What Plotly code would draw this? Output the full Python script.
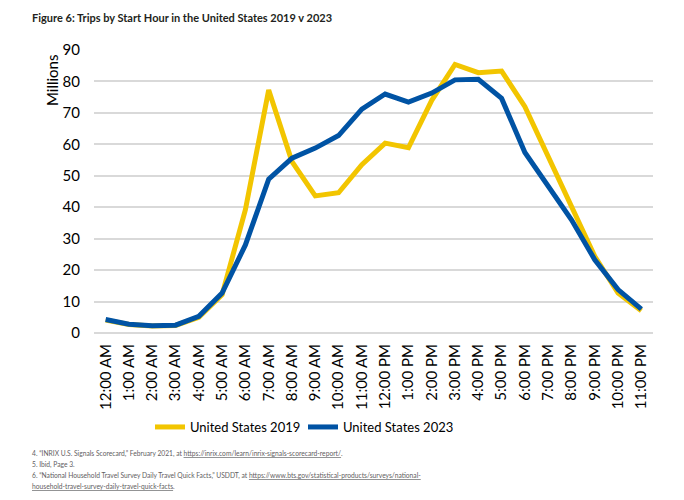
import plotly.graph_objects as go

hours = ["12:00 AM", "1:00 AM", "2:00 AM", "3:00 AM", "4:00 AM", "5:00 AM", "6:00 AM",
         "7:00 AM", "8:00 AM", "9:00 AM", "10:00 AM", "11:00 AM", "12:00 PM", "1:00 PM",
         "2:00 PM", "3:00 PM", "4:00 PM", "5:00 PM", "6:00 PM", "7:00 PM", "8:00 PM",
         "9:00 PM", "10:00 PM", "11:00 PM"]
us_2019 = [4.1, 2.7, 2.2, 2.4, 5.0, 12.2, 39.2, 77.3, 54.5, 43.6, 44.6, 53.5, 60.4, 58.9,
           74.0, 85.4, 82.8, 83.3, 72.0, 56.0, 39.7, 24.4, 12.7, 7.1]
us_2023 = [4.3, 2.8, 2.3, 2.5, 5.3, 12.7, 28.0, 48.9, 55.6, 58.8, 62.8, 71.2, 76.0, 73.4,
           76.3, 80.5, 80.7, 74.6, 57.4, 46.6, 36.0, 23.3, 13.8, 7.6]
y_ticks = [0, 10, 20, 30, 40, 50, 60, 70, 80, 90]

FONT = "Lato, 'Open Sans', sans-serif"

# plot area in page pixels (page has an 8px body offset)
PL, PR, PT, PB = 94, 653, 50, 333
PW, PH = PR - PL, PB - PT

def px(x):
    return (x - PL) / PW

def py(y):
    return (PB - y) / PH

fig = go.Figure()
fig.add_trace(go.Scatter(x=hours, y=us_2019, mode="lines", name="United States 2019",
                         line=dict(color="#F2C500", width=5)))
fig.add_trace(go.Scatter(x=hours, y=us_2023, mode="lines", name="United States 2023",
                         line=dict(color="#0053A4", width=5)))

fig.update_layout(
    width=684, height=500,
    margin=dict(l=PL - 8, r=684 + 8 - PR, t=PT - 8, b=500 + 8 - PB),
    paper_bgcolor="white", plot_bgcolor="white",
    font=dict(family=FONT, color="#000000", size=15),
    showlegend=True,
    legend=dict(orientation="h", x=px(150), xanchor="left", y=py(427), yanchor="middle",
                font=dict(size=13, color="#000000"), tracegroupgap=0,
                entrywidth=108, entrywidthmode="pixels"),
    xaxis=dict(type="category", range=[-0.5, len(hours) - 0.5], tickangle=-90,
               showgrid=False, showline=False,
               ticks="outside", ticklen=4, tickcolor="rgba(0,0,0,0)",
               tickfont=dict(size=15)),
    yaxis=dict(range=[0, 90], tickvals=y_ticks, showgrid=True, gridcolor="#D9D9D9",
               gridwidth=1.5, zeroline=True, zerolinecolor="#D9D9D9", zerolinewidth=1.5,
               ticks="outside", ticklen=10, tickcolor="rgba(0,0,0,0)",
               tickfont=dict(size=15)),
)

fig.add_annotation(text="<b>Figure 6: Trips by Start Hour in the United States 2019 v 2023</b>",
                   xref="paper", yref="paper", x=px(30), y=py(17),
                   xanchor="left", yanchor="middle", showarrow=False,
                   font=dict(size=11, color="#231F20"))
fig.add_annotation(text="Millions", textangle=-90, xref="paper", yref="paper",
                   x=px(52), y=py(80), xanchor="center", yanchor="middle",
                   showarrow=False, font=dict(size=15, color="#000000"))

notes = [
    "4. \u201cINRIX U.S. Signals Scorecard,\u201d February 2021, at <u>https://inrix.com/learn/inrix-signals-scorecard-report/</u>.",
    "5. Ibid, Page 3.",
    "6. \u201cNational Household Travel Survey Daily Travel Quick Facts,\u201d USDDT, at <u>https://www.bts.gov/statistical-products/surveys/national-</u>",
    "<u>household-travel-survey-daily-travel-quick-facts</u>.",
]
for i, t in enumerate(notes):
    fig.add_annotation(text=t, xref="paper", yref="paper", x=px(30),
                       y=py(453 + 11 * i), xanchor="left", yanchor="middle",
                       showarrow=False, font=dict(size=6.7, color="#5F6062"))

fig.write_html("out.html")
